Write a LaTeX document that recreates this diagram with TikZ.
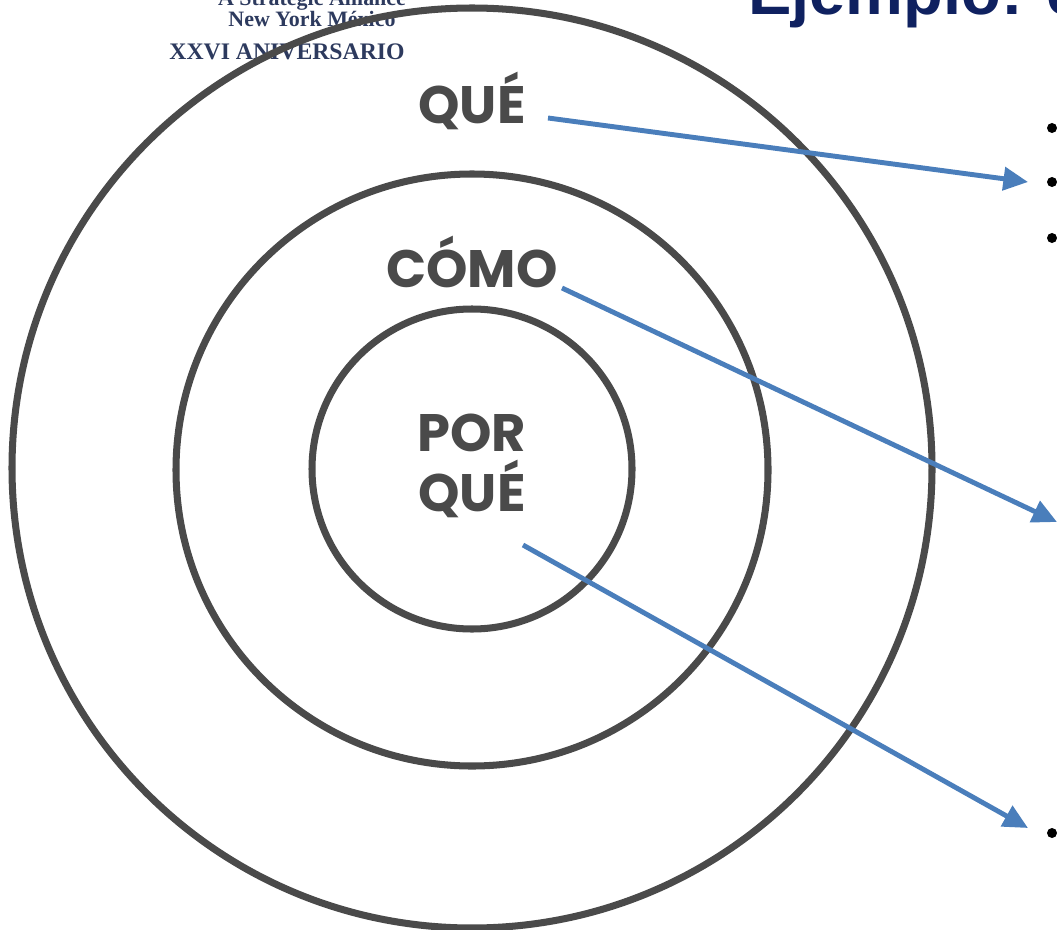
\documentclass[tikz,border=0pt]{standalone}
\usepackage{fontspec}
\setmainfont{Liberation Serif}
\newfontfamily\ringfont{Poppins}
\newfontfamily\titlefont{Liberation Sans}
\usetikzlibrary{arrows.meta}
\definecolor{ringgray}{HTML}{4A4A4A}
\definecolor{arrowblue}{HTML}{4A7EBB}
\definecolor{titleblue}{HTML}{0F2160}
\definecolor{logoblue}{HTML}{2D3A5E}
\tikzset{
  ring/.style={draw=ringgray, line width=4pt},
  ringlabel/.style={text=ringgray, font=\ringfont\bfseries\fontsize{30}{34}\selectfont, align=center, inner sep=0pt},
  pointer/.style={draw=arrowblue, line width=2.8pt, -{Triangle[length=14pt,width=13pt]}},
  bullet/.style={circle, fill=black, inner sep=0pt, minimum size=5.7pt},
  logo/.style={text=logoblue, inner sep=0pt, anchor=base},
}
\begin{document}
\begin{tikzpicture}[x=0.02cm, y=-0.02cm]
    \useasboundingbox (0,0) rectangle (1057,929);
    \clip (0,0) rectangle (1057,929);
    % logo and title
    \node[logo, font=\bfseries\fontsize{12.5}{13}\selectfont] (ally) at (312,6) {A Strategic Alliance};
    \node[logo, font=\bfseries\fontsize{12.5}{13}\selectfont] (city) at (312,27) {New York México};
    \node[logo, font=\bfseries\fontsize{13.5}{15}\selectfont] (anniv) at (287,60) {XXVI ANIVERSARIO};
    \node[text=titleblue, font=\titlefont\bfseries\fontsize{37}{40}\selectfont, anchor=base west, inner sep=0pt] (title) at (748,15) {Ejemplo: e};
    % circles
    \draw[ring] (472,468) circle (460);
    \draw[ring] (472,470) circle (296);
    \draw[ring] (472,469) circle (160);
    \node[ringlabel] (what) at (472,101) {QUÉ};
    \node[ringlabel] (how) at (472,262) {CÓMO};
    \node[ringlabel] (why) at (472,466) {POR\\QUÉ};
    % bullets on the right
    \foreach \y/\n in {128/b1, 182/b2, 238/b3, 833/b4}
        \node[bullet] (\n) at (1052,\y) {};
    \coordinate (whatend) at (548,118);
    \coordinate (howend) at (562,288);
    \coordinate (whyend) at (523,545);
    \coordinate (mid) at (1057,522);
    % arrows
    \draw[pointer] (whatend) -- ([xshift=-24*0.02cm]b2.center);
    \draw[pointer] (howend) -- (mid);
    \draw[pointer] (whyend) -- ([xshift=-24*0.02cm,yshift=5*0.02cm]b4.center);
\end{tikzpicture}
\end{document}
